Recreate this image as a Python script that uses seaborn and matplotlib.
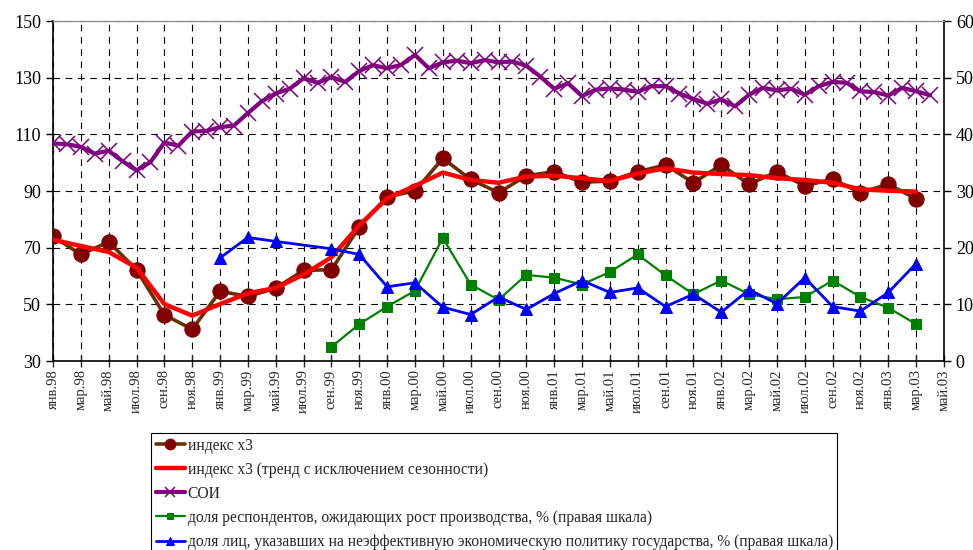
import numpy as np
import pandas as pd
import matplotlib
matplotlib.use("Agg")
import matplotlib.pyplot as plt
import seaborn as sns

# месяцы: янв.98 = 0 ... май.03 = 64
month_names = ["янв", "фев", "мар", "апр", "май", "июн", "июл", "авг", "сен", "окт", "ноя", "дек"]
years = ["98", "99", "00", "01", "02", "03"]

# индекс х3 (раз в два месяца, янв.98 - мар.03)
index_x3 = [74.0, 67.6, 72.0, 62.2, 46.3, 41.2, 54.6, 52.8, 55.7, 62.0, 62.2, 77.3,
            88.0, 90.0, 101.5, 94.1, 89.4, 95.4, 96.8, 93.1, 93.5, 96.8, 99.2, 92.9,
            99.2, 92.4, 96.8, 91.8, 94.2, 89.4, 92.4, 87.2]
# тренд с исключением сезонности
trend_x3 = [72.8, 70.6, 68.5, 62.9, 50.1, 46.0, 50.1, 53.9, 55.8, 60.5, 66.6, 77.9,
            87.4, 91.8, 96.5, 93.9, 92.9, 95.1, 95.4, 94.5, 93.5, 96.2, 98.0, 96.5,
            96.0, 95.6, 94.5, 93.9, 92.9, 90.6, 90.1, 89.8]
# СОИ (ежемесячно, янв.98 - апр.03)
soi = [106.8, 106.5, 105.6, 103.2, 104.2, 100.5, 97.3, 100.2, 107.1, 106.0, 111.0, 111.2,
       112.5, 113.1, 117.5, 121.7, 124.4, 126.1, 129.8, 128.2, 130.2, 128.5, 132.4, 134.4,
       133.3, 134.5, 138.0, 133.3, 135.4, 136.0, 135.1, 136.2, 135.4, 135.7, 134.2, 130.4,
       126.1, 128.0, 123.5, 125.8, 126.2, 125.8, 125.0, 127.0, 127.0, 124.4, 122.5, 120.8,
       122.3, 119.9, 124.0, 126.4, 125.5, 126.1, 124.0, 127.0, 128.5, 128.2, 125.2, 124.9,
       123.7, 126.4, 125.2, 123.8]
# доля респондентов, ожидающих рост производства (сен.99 - мар.03)
growth = [2.5, 6.5, 9.6, 12.4, 21.7, 13.5, 10.8, 15.2, 14.7, 13.5, 15.7, 18.8,
          15.1, 11.8, 14.2, 11.8, 10.9, 11.3, 14.2, 11.3, 9.4, 6.5]
# доля лиц, указавших на неэффективную политику (янв.99 - мар.03)
policy = [18.2, 21.8, 21.1, np.nan, 19.8, 18.8, 13.1, 13.8, 9.5, 8.2, 11.3, 9.1,
          11.9, 14.2, 12.1, 12.9, 9.6, 11.8, 8.6, 12.6, 10.1, 14.7, 9.6, 8.8, 12.1, 17.2]

labels = ["индекс х3",
          "индекс х3 (тренд с исключением сезонности)",
          "СОИ",
          "доля респондентов, ожидающих рост производства, % (правая шкала)",
          "доля лиц, указавших на неэффективную экономическую политику государства, % (правая шкала)"]

df_x3 = pd.DataFrame({"t": np.arange(0, 64, 2), "idx": index_x3, "trend": trend_x3})
df_soi = pd.DataFrame({"t": np.arange(64), "soi": soi})
df_gr = pd.DataFrame({"t": np.arange(20, 64, 2), "v": growth})
df_pol = pd.DataFrame({"t": np.arange(12, 64, 2), "v": policy}).dropna()

sns.set_style("white")
plt.rcParams["font.family"] = ["Liberation Serif", "DejaVu Serif"]

fig = plt.figure(figsize=(9.73, 5.5), dpi=100)
ax = fig.add_axes([53 / 973, 1 - 361 / 550, (944 - 53) / 973, 340 / 550])
ax2 = ax.twinx()

sns.lineplot(data=df_x3, x="t", y="idx", ax=ax, color="#663300", lw=2.6,
             marker="o", markersize=11, markerfacecolor="#800000",
             markeredgecolor="#800000", label=labels[0], zorder=3)
sns.lineplot(data=df_x3, x="t", y="trend", ax=ax, color="#ff0000", lw=3.2,
             label=labels[1], zorder=4)
sns.lineplot(data=df_soi, x="t", y="soi", ax=ax, color="#800080", lw=3.0,
             marker="x", markersize=11, markeredgewidth=1.1,
             markeredgecolor="#800080", label=labels[2], zorder=3)
sns.lineplot(data=df_gr, x="t", y="v", ax=ax2, color="#008000", lw=1.6,
             marker="s", markersize=7, markerfacecolor="#008000",
             markeredgecolor="#008000", label=labels[3], zorder=3)
sns.lineplot(data=df_pol, x="t", y="v", ax=ax2, color="#0000ff", lw=2.0,
             marker="^", markersize=9, markerfacecolor="#0000ff",
             markeredgecolor="#0000ff", label=labels[4], zorder=3)

handles, labs = ax.get_legend_handles_labels()
h2, l2 = ax2.get_legend_handles_labels()
for a in (ax, ax2):
    if a.get_legend() is not None:
        a.get_legend().remove()

ax.set_xlim(0, 64)
ax.set_ylim(30, 150)
ax2.set_ylim(0, 60)
ax.set_yticks(range(30, 151, 20))
ax2.set_yticks(range(0, 61, 10))
ticks = np.arange(0, 65, 2)
ax.set_xticks(ticks)
ax.set_xticklabels([month_names[t % 12] + "." + years[t // 12] for t in ticks],
                   rotation=90, fontsize=10.5)
ax.set_xlabel("")
ax.set_ylabel("")
ax2.set_ylabel("")
ax.tick_params(axis="y", labelsize=13, direction="out", length=5, width=1, colors="black", left=True)
ax2.tick_params(axis="y", labelsize=13, direction="out", length=5, width=1, colors="black", right=True)
ax.tick_params(axis="x", direction="inout", length=8, width=1, bottom=True, pad=2)

ax.grid(True, color="black", linestyle=(0, (6, 5)), linewidth=0.8)
ax.set_axisbelow(True)
for s in ("left", "bottom"):
    ax.spines[s].set_color("black")
    ax.spines[s].set_linewidth(1.2)
ax2.spines["right"].set_color("black")
ax2.spines["right"].set_linewidth(1.2)
ax.spines["top"].set_color("#888888")
ax2.spines["top"].set_color("#888888")
ax2.spines["left"].set_visible(False)
ax2.spines["bottom"].set_visible(False)
ax.spines["right"].set_visible(False)

leg = fig.legend(handles + h2, labs + l2, loc="upper left",
                 bbox_to_anchor=(151 / 973, 1 - 433 / 550), fontsize=11.2,
                 frameon=True, fancybox=False, edgecolor="black", framealpha=1,
                 handlelength=1.9, handletextpad=0.15, labelspacing=0.52,
                 borderpad=0.3, borderaxespad=0, markerscale=0.7)
leg.get_frame().set_linewidth(0.8)

fig.savefig("out.png", dpi=100)
